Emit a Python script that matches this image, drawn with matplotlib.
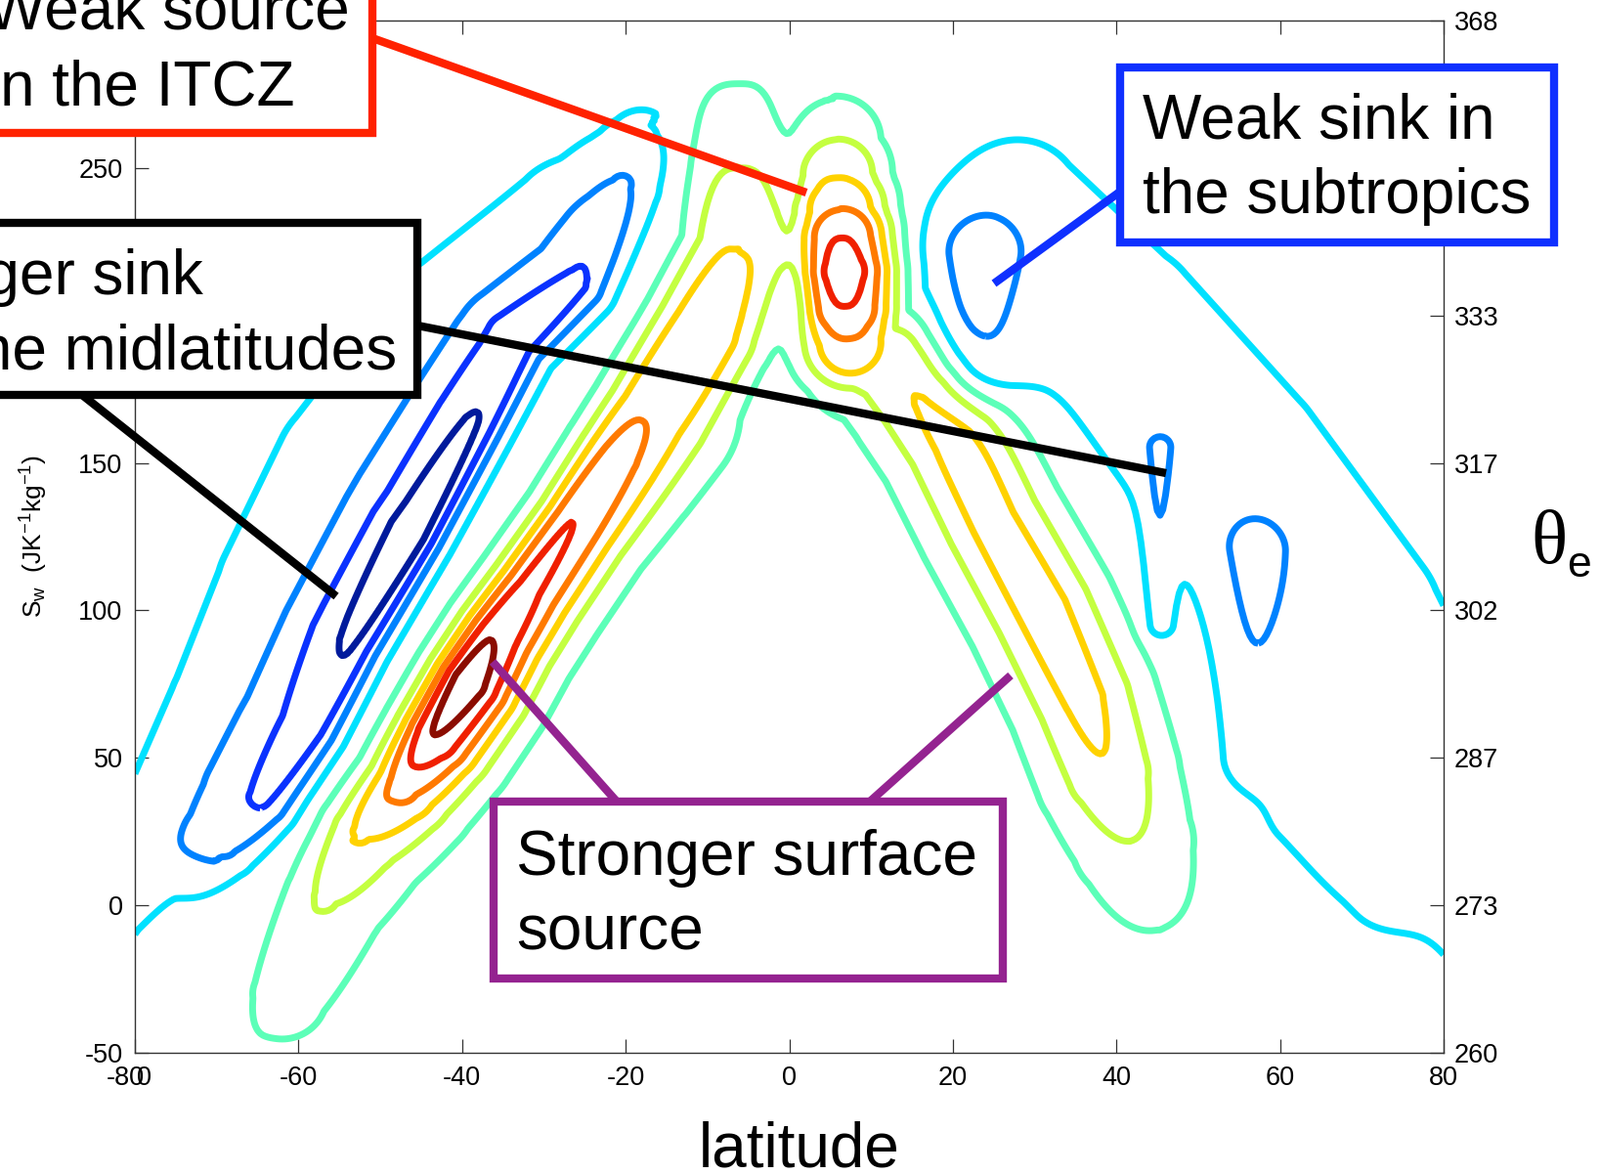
import numpy as np
import matplotlib
matplotlib.use("Agg")
import matplotlib.pyplot as plt
from matplotlib.patches import Rectangle
from matplotlib.lines import Line2D

plt.rcParams['font.family'] = ['Liberation Sans', 'DejaVu Sans']
plt.rcParams['mathtext.fontset'] = 'custom'
plt.rcParams['mathtext.rm'] = 'Liberation Sans'
plt.rcParams['mathtext.it'] = 'Liberation Sans:italic'

W, H = 1637, 1201

# contour levels and the jet-like colours of the lines
levels = [-3.5, -2.5, -1.5, -0.5, 0.5, 1.5, 2.5, 3.5, 4.5, 5.5]
level_colors = ["#001a9c", "#0a32ff", "#0082ff", "#00e1ff", "#5cffb8",
                "#c4ff40", "#ffd200", "#ff7a00", "#f02000", "#8b0c00"]

lat_ticks = [-80, -60, -40, -20, 0, 20, 40, 60, 80]
sw_ticks = [-50, 0, 50, 100, 150, 200, 250, 300]
theta_labels = ["260", "273", "287", "302", "317", "333", "348", "368"]

# ridges and sinks, traced along their axes
# columns: latitude, S_w, amplitude, width left / right of the trace, profile exponent left / right
sh_source = np.array([
    [-67, -62, 0.0, 13, 20, 2, 2], [-62, -30, 0.9, 13, 20, 2, 2], [-57, 3, 1.6, 12, 20, 2, 2],
    [-52.5, 25, 2.6, 12, 20, 2, 2], [-47.5, 41, 3.9, 12, 19, 2, 2], [-43.5, 58, 5.5, 12, 19, 2, 2],
    [-39.5, 76, 6.2, 12, 19, 2, 2], [-36, 92, 5.4, 12, 19, 2, 2], [-32, 108, 4.8, 12, 19, 2, 2],
    [-26.5, 130, 4.5, 12, 19, 2, 2], [-21, 152, 3.9, 14, 21, 2.3, 2], [-17, 167, 3.4, 16, 22, 2.6, 2],
    [-11, 195, 2.95, 17, 21, 3, 3.5], [-6.5, 222, 2.5, 16, 18, 3, 4], [-6, 250, 1.5, 17, 15, 3, 3.5],
    [-6, 280, 0.45, 17, 13, 3, 3], [-6, 300, 0.0, 15, 13, 3, 3]])

sh_sink_core = np.array([
    [-75, 0, 0.0, 14, 9, 2, 2], [-68.5, 20, -1.4, 15, 10, 2, 2], [-64, 35, -2.4, 16, 10, 2, 2],
    [-58.5, 60, -2.9, 16, 10, 2, 2], [-53.5, 89, -3.45, 16, 10, 2, 2], [-46, 126, -4.1, 16, 10, 2, 2],
    [-38.5, 163, -3.45, 16, 10, 2, 2], [-33, 190, -2.8, 16, 10, 2, 2], [-25.5, 210, -2.45, 15, 10, 2, 2],
    [-19.5, 243, -1.1, 14, 10, 2, 2], [-17, 262, -0.3, 13, 10, 2, 2], [-16, 275, 0.0, 12, 10, 2, 2]])

sh_sink_halo = np.array([
    [-90, -30, -0.8, 24, 15, 2, 2], [-83, 0, -1.0, 24, 15, 2, 2], [-74, 25, -1.1, 26, 14, 2, 2],
    [-66.5, 65, -1.2, 28, 14, 2, 2], [-59, 105, -1.2, 33, 14, 2, 2], [-52, 145, -1.2, 33, 14, 2, 2],
    [-40, 195, -1.1, 30, 14, 2, 2], [-27, 232, -0.9, 26, 14, 2, 2], [-20, 255, -0.5, 22, 14, 2, 2],
    [-16.5, 272, 0.0, 20, 14, 2, 2]])

nh_source = np.array([
    [48, -30, 0.0, 20, 20, 2, 2], [45.5, -8, 0.5, 20, 20, 2, 2], [42, 22, 1.5, 20, 20, 2, 2],
    [39, 45, 2.4, 20, 20, 2, 2], [36, 70, 2.8, 20, 20, 2, 2], [31, 100, 3.0, 20, 20, 2, 2],
    [25, 130, 2.9, 20, 20, 2, 2], [20.5, 158, 2.95, 21, 19, 2, 2], [17, 172, 2.85, 21, 18, 2, 2],
    [13, 184, 2.6, 20, 17, 2, 2], [9.5, 187, 2.35, 19, 17, 2, 2], [7.5, 191, 3.4, 17, 17, 2.5, 2.5],
    [7, 203, 4.5, 15, 17, 3, 2.5], [6.8, 215, 5.0, 15, 17, 3, 2.5], [6.5, 226.5, 4.5, 15, 17, 3, 2.5],
    [6.2, 236, 3.4, 15, 17, 3, 2.5], [6, 248, 2.4, 15, 16, 3, 2.5], [5.8, 259, 1.45, 14, 15, 3, 2.5],
    [5.5, 272, 0.5, 13, 14, 3, 2.5], [5.3, 290, 0.0, 12, 13, 3, 2.5]])

nh_sink = np.array([
    [90, -10, -0.9, 34, 28, 2, 2], [80, 40, -1.05, 40, 32, 2, 2], [68, 95, -1.15, 38, 36, 2, 2],
    [54, 148, -1.15, 36, 36, 2, 2], [40, 195, -1.1, 34, 34, 2, 2], [28, 238, -0.9, 28, 28, 2, 2],
    [21, 262, 0.0, 24, 24, 2, 2]])

nh_sink_a = np.array([[22.6, 185, -1.55, 17, 17, 2, 2], [22.6, 220, -1.55, 17, 17, 2, 2]])
nh_sink_b = np.array([[45.2, 95, -0.9, 5, 5, 2, 2], [45.2, 155, -0.9, 5, 5, 2, 2]])
nh_sink_c = np.array([[56.6, 50, -0.85, 12, 12, 2, 2], [56.6, 120, -0.85, 12, 12, 2, 2]])
nh_sink_d = np.array([[62, 30, -0.5, 15, 15, 2, 2], [72, 5, -0.5, 15, 15, 2, 2]])

ASPECT = 2.77  # one degree of latitude is drawn as long as 2.77 units of S_w


def tube(lat, sw, pts):
    x = lat * ASPECT
    vx = pts[:, 0] * ASPECT
    vy = pts[:, 1]
    out = np.zeros_like(lat)
    for i in range(len(pts) - 1):
        dx = vx[i + 1] - vx[i]
        dy = vy[i + 1] - vy[i]
        t = np.clip(((x - vx[i]) * dx + (sw - vy[i]) * dy) / (dx * dx + dy * dy), 0, 1)
        ex = x - vx[i] - t * dx
        ey = sw - vy[i] - t * dy
        left = dx * ey - dy * ex > 0
        a, wl, wr, pl, pr = (pts[i, k] + t * (pts[i + 1, k] - pts[i, k]) for k in range(2, 7))
        w = np.where(left, wl, wr)
        p = np.where(left, pl, pr)
        v = a * np.exp(-(np.sqrt(ex * ex + ey * ey) / w) ** p)
        out = np.where(np.abs(v) > np.abs(out), v, out)
    return out


lat = np.linspace(-80, 80, 481)
sw = np.linspace(-50, 300, 701)
LAT, SW = np.meshgrid(lat, sw)
field = sum(tube(LAT, SW, p) for p in
            [sh_source, sh_sink_core, sh_sink_halo, nh_source, nh_sink,
             nh_sink_a, nh_sink_b, nh_sink_c, nh_sink_d])

fig = plt.figure(figsize=(W / 100, H / 100), dpi=100)
ax = fig.add_axes([138 / W, 1 - 1077 / H, 1339 / W, 1056 / H])
ax.contour(LAT, SW, field, levels=levels, colors=level_colors, linewidths=5)
ax.set_xlim(-80, 80)
ax.set_ylim(-50, 300)

ax.set_xticks(lat_ticks)
ax.set_xticklabels([""] + [str(v) for v in lat_ticks[1:]])
ax.set_yticks(sw_ticks)
ax.set_yticklabels([str(v) for v in sw_ticks])
ax.tick_params(direction="in", length=10, width=0.9, labelsize=19.5, pad=9,
               top=True, right=False, color="#333333")
for sp in ax.spines.values():
    sp.set_color("#333333")
    sp.set_linewidth(1.0)

ax2 = ax.twinx()
ax2.set_ylim(-50, 300)
ax2.set_yticks(sw_ticks)
ax2.set_yticklabels(theta_labels)
ax2.tick_params(direction="in", length=10, width=0.9, labelsize=19.5, pad=8,
                color="#333333")
for sp in ax2.spines.values():
    sp.set_visible(False)

# the -80 label sits on top of a stray 0
ax.annotate("-80", xy=(-80, 0), xycoords=("data", "axes fraction"),
            xytext=(-7, -9), textcoords="offset points", ha="center", va="top", fontsize=19.5)
ax.annotate("0", xy=(-80, 0), xycoords=("data", "axes fraction"),
            xytext=(7, -9), textcoords="offset points", ha="center", va="top", fontsize=19.5)


def fx(x):
    return x / W


def fy(y):
    return 1 - y / H


fig.text(fx(35), fy(548), r"$\mathregular{S_w\ \ (JK^{-1}kg^{-1})}$", rotation=90,
         ha="center", va="center", fontsize=19)
fig.text(fx(818), fy(1193), "latitude", ha="center", va="baseline", fontsize=46)
fig.text(fx(1566), fy(576), "\u03b8", family=["Liberation Serif", "DejaVu Serif"],
         ha="left", va="baseline", fontsize=56)
fig.text(fx(1603), fy(590), "e", ha="left", va="baseline", fontsize=32)

# annotation boxes and their pointers
boxes = [
    ((-60, -60, 441, 196), "#ff2200", [("Weak source", -14, 30), ("in the ITCZ", -14, 107)],
     [((381, 39), (825, 197))]),
    ((-200, 228, 627, 176), "#000000", [("Stronger sink", -168, 301), ("in the midlatitudes", -108, 377)],
     [((84, 404), (344, 610)), ((427, 333), (1193, 484))]),
    ((1146, 69, 444, 179), "#0f30ff", [("Weak sink in", 1169, 142), ("the subtropics", 1169, 218)],
     [((1146, 196), (1017, 290))]),
    ((505, 820, 521, 181), "#942390", [("Stronger surface", 528, 895), ("source", 528, 971)],
     [((631, 820), (504, 677)), ((890, 820), (1034, 691))]),
]
for (x0, y0, bw, bh), col, lines, pointers in boxes:
    for (xa, ya), (xb, yb) in pointers:
        fig.add_artist(Line2D([fx(xa), fx(xb)], [fy(ya), fy(yb)], color=col, lw=6,
                              solid_capstyle="butt", zorder=4))
    fig.add_artist(Rectangle((fx(x0), fy(y0 + bh)), bw / W, bh / H, facecolor="white",
                             edgecolor=col, lw=6, zorder=5))
    for txt, tx, ty in lines:
        fig.text(fx(tx), fy(ty), txt, ha="left", va="baseline", fontsize=46, zorder=6)

fig.savefig("out.png", dpi=100)
